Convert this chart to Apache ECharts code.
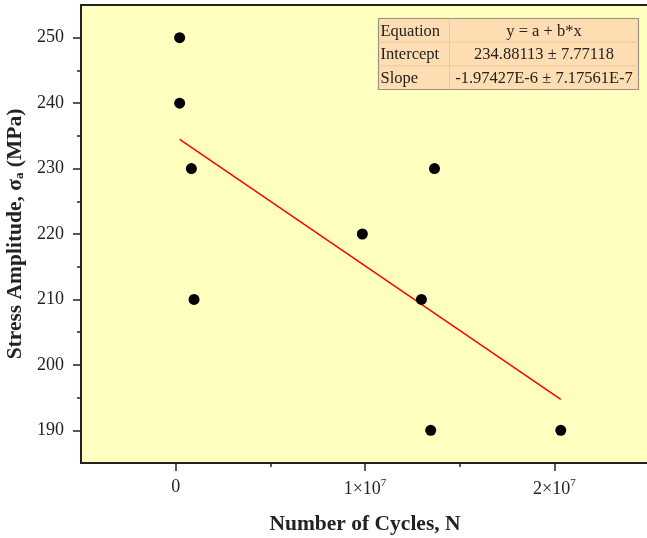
<!DOCTYPE html>
<html>
<head>
<meta charset="utf-8">
<script src="https://cdn.jsdelivr.net/npm/echarts@6/dist/echarts.min.js"></script>
<style>
  html, body { margin: 0; padding: 0; background: #fff; }
  #chart { width: 647px; height: 538px; }
</style>
</head>
<body>
<div id="chart"></div>
<script>
// measured points (cycles, stress MPa)
const cycles = [2.1e5, 2.1e5, 8.3e5, 9.7e5, 9.86e6, 1.298e7, 1.367e7, 1.347e7, 2.034e7];
const stress = [250, 240, 230, 210, 220, 210, 230, 190, 190];

// linear fit line endpoints (y = a + b*x)
const fitX = [2.1e5, 2.034e7];
const fitY = [234.47, 194.72];

// fit table
const tableLabels = ["Equation", "Intercept", "Slope"];
const tableValues = ["y = a + b*x", "234.88113 \u00b1 7.77118", "-1.97427E-6 \u00b1 7.17561E-7"];

// axis ticks
const yMajor = [190, 200, 210, 220, 230, 240, 250];
const yMinor = [195, 205, 215, 225, 235, 245];
const xMajor = [0, 1e7, 2e7];
const xMinor = [5e6, 1.5e7];

const FONT = "'Liberation Serif', 'Times New Roman', serif";

const points = cycles.map((c, i) => [c, stress[i]]);
const fitLine = fitX.map((x, i) => [x, fitY[i]]);

const chart = echarts.init(document.getElementById("chart"));

// build table graphic
const tbl = { left: 376, top: 16, w: 260, h: 71, col: 71 };
const rowH = tbl.h / tableLabels.length;
const tableEls = [
    { type: "rect", shape: { x: 0, y: 0, width: tbl.w, height: tbl.h },
      style: { fill: "#FFDDB2", stroke: "#9a9080", lineWidth: 1.2 } },
    { type: "line", shape: { x1: tbl.col, y1: 0, x2: tbl.col, y2: tbl.h },
      style: { stroke: "#e8c8a0", lineWidth: 1 } }
];
for (let i = 1; i < tableLabels.length; i++) {
    tableEls.push({ type: "line", shape: { x1: 0, y1: rowH * i, x2: tbl.w, y2: rowH * i },
        style: { stroke: "#e8c8a0", lineWidth: 1 } });
}
tableLabels.forEach((t, i) => {
    tableEls.push({ type: "text", x: 2, y: rowH * i + rowH / 2 + 1,
        style: { text: t, font: "16.5px " + FONT, fill: "#222", verticalAlign: "middle", align: "left" } });
    tableEls.push({ type: "text", x: (tbl.col + tbl.w) / 2, y: rowH * i + rowH / 2 + 1,
        style: { text: tableValues[i], font: "16.5px " + FONT, fill: "#222", verticalAlign: "middle", align: "center" } });
});

const xLabelFmt = v => {
    if (v === 0) return "{b|0}";
    return "{b|" + Math.round(v / 1e7) + "\u00d710}{sup|7}";
};
const labelRich = {
    b: { fontFamily: FONT, fontSize: 18, color: "#222" },
    sup: { fontFamily: FONT, fontSize: 11, color: "#222", padding: [0, 0, 11, 0] }
};

const option = {
    backgroundColor: "#fff",
    animation: false,
    grid: {
        left: 81, top: 5, width: 568, height: 458, outerBoundsMode: "none",
        show: true, backgroundColor: "#FFFFC0", borderColor: "#222", borderWidth: 2
    },
    xAxis: [
        {
            type: "value", min: -5e6, max: 2.5e7,
            name: "Number of Cycles, N", nameLocation: "middle", nameGap: 50,
            nameTextStyle: { fontFamily: FONT, fontSize: 21.5, fontWeight: "bold", color: "#222" },
            axisLine: { show: true, onZero: false, lineStyle: { color: "#222", width: 2 } },
            axisTick: { show: true, customValues: xMajor, length: 8, lineStyle: { color: "#222", width: 1.5 } },
            axisLabel: { customValues: xMajor, margin: 15, formatter: xLabelFmt, rich: labelRich },
            splitLine: { show: false }
        },
        {
            type: "value", min: -5e6, max: 2.5e7, position: "bottom",
            axisLine: { show: false, onZero: false },
            axisTick: { show: true, customValues: xMinor, length: 4, lineStyle: { color: "#222", width: 1.5 } },
            axisLabel: { show: false },
            splitLine: { show: false }
        }
    ],
    yAxis: [
        {
            type: "value", min: 185, max: 255,
            name: "Stress Amplitude, {n|\u03c3}{sub|a} (MPa)", nameLocation: "middle", nameGap: 54, nameRotate: 90,
            nameTextStyle: {
                fontFamily: FONT, fontSize: 21.5, fontWeight: "bold", color: "#222",
                rich: {
                    n: { fontFamily: FONT, fontSize: 21.5, fontWeight: "bold", color: "#222" },
                    sub: { fontFamily: FONT, fontSize: 13, fontWeight: "bold", color: "#222", padding: [9, 0, 0, 0] }
                }
            },
            axisLine: { show: true, onZero: false, lineStyle: { color: "#222", width: 2 } },
            axisTick: { show: true, customValues: yMajor, length: 8, lineStyle: { color: "#222", width: 1.5 } },
            axisLabel: { customValues: yMajor, margin: 17, fontFamily: FONT, fontSize: 18, color: "#222" },
            splitLine: { show: false }
        },
        {
            type: "value", min: 185, max: 255, position: "left",
            axisLine: { show: false, onZero: false },
            axisTick: { show: true, customValues: yMinor, length: 4, lineStyle: { color: "#222", width: 1.5 } },
            axisLabel: { show: false },
            splitLine: { show: false }
        }
    ],
    series: [
        {
            type: "line", data: fitLine, showSymbol: false, symbol: "none",
            lineStyle: { color: "#ff0000", width: 1.5 }, z: 2
        },
        {
            type: "scatter", data: points, symbol: "circle", symbolSize: 11,
            itemStyle: { color: "#000", opacity: 1 }, z: 3
        }
    ],
    graphic: [{ type: "group", left: tbl.left, top: tbl.top, children: tableEls }]
};

chart.setOption(option);
window.addEventListener("resize", () => chart.resize());
</script>
</body>
</html>
